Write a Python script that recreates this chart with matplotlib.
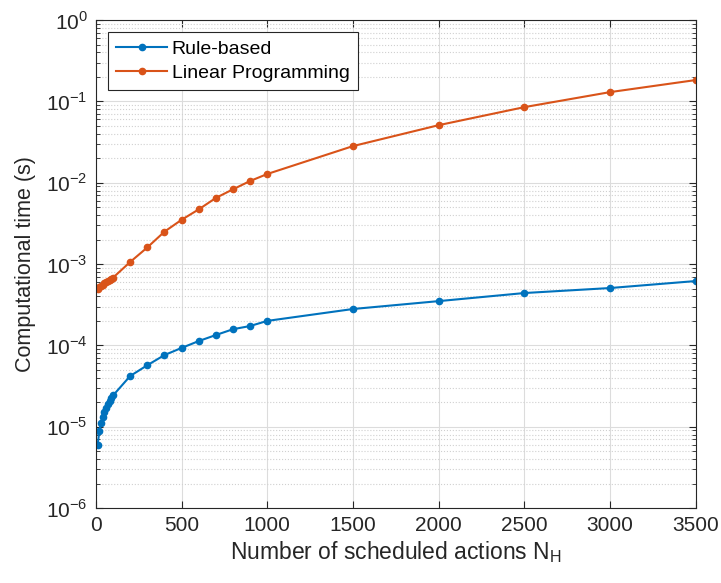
import matplotlib
matplotlib.use('Agg')
import matplotlib.pyplot as plt
from matplotlib.ticker import FixedLocator, NullFormatter

plt.rcParams['font.family'] = ['Liberation Sans', 'DejaVu Sans']
plt.rcParams['mathtext.fontset'] = 'custom'
plt.rcParams['mathtext.rm'] = 'Liberation Sans'

# number of scheduled actions
n_actions = [10, 20, 30, 40, 50, 60, 70, 80, 90, 100,
             200, 300, 400, 500, 600, 700, 800, 900, 1000,
             1500, 2000, 2500, 3000, 3500]

rule_based = [5.9e-6, 8.8e-6, 1.12e-5, 1.32e-5, 1.53e-5, 1.72e-5, 1.9e-5, 2.07e-5, 2.25e-5, 2.42e-5,
              4.2e-5, 5.7e-5, 7.6e-5, 9.3e-5, 1.13e-4, 1.34e-4, 1.58e-4, 1.73e-4, 2.0e-4,
              2.8e-4, 3.5e-4, 4.4e-4, 5.07e-4, 6.18e-4]

linear_prog = [5.0e-4, 5.2e-4, 5.4e-4, 5.6e-4, 5.8e-4, 6.0e-4, 6.2e-4, 6.4e-4, 6.6e-4, 6.8e-4,
               1.06e-3, 1.6e-3, 2.5e-3, 3.5e-3, 4.7e-3, 6.5e-3, 8.3e-3, 1.05e-2, 1.28e-2,
               2.82e-2, 5.1e-2, 8.5e-2, 0.13, 0.183]

decades = [-6, -5, -4, -3, -2, -1, 0]

fig = plt.figure(figsize=(7.21, 5.83), dpi=100)
ax = fig.add_axes([0.133, 0.1286, 0.832, 0.837])

ax.semilogy(n_actions, rule_based, '.-', color='#0072BD', lw=1.5, ms=9, label='Rule-based')
ax.semilogy(n_actions, linear_prog, '.-', color='#D95319', lw=1.5, ms=9, label='Linear Programming')

ax.set_xlim(0, 3500)
ax.set_ylim(1e-6, 1)
ax.set_xticks(range(0, 3501, 500))
ax.set_yticks([10.0 ** d for d in decades], [r'10$^{%d}$' % d for d in decades])
minors = [m * 10.0 ** d for d in decades[:-1] for m in range(2, 10)]
ax.yaxis.set_minor_locator(FixedLocator(minors))
ax.yaxis.set_minor_formatter(NullFormatter())

ax.grid(True, which='major', color='#dcdcdc', lw=0.8)
ax.grid(True, which='minor', axis='y', color='#d0d0d0', ls=':', lw=0.8)
ax.set_axisbelow(True)

ax.tick_params(which='both', direction='in', top=True, right=True, labelsize=15, colors='#262626')
ax.tick_params(which='major', length=5, pad=6)
ax.tick_params(which='minor', length=3)
for s in ax.spines.values():
    s.set_color('#262626')

ax.set_xlabel(r'Number of scheduled actions N$_\mathregular{H}$', fontsize=16.5, color='#262626', labelpad=3)
ax.set_ylabel('Computational time (s)', fontsize=15.5, color='#262626', labelpad=7)

leg = ax.legend(loc='upper left', fontsize=14, fancybox=False, edgecolor='#262626',
                framealpha=1, borderaxespad=0.6, handlelength=2.6, handletextpad=0.25,
                labelspacing=0.3, borderpad=0.45)
leg.get_frame().set_linewidth(0.8)

fig.savefig('out.png', dpi=100)
